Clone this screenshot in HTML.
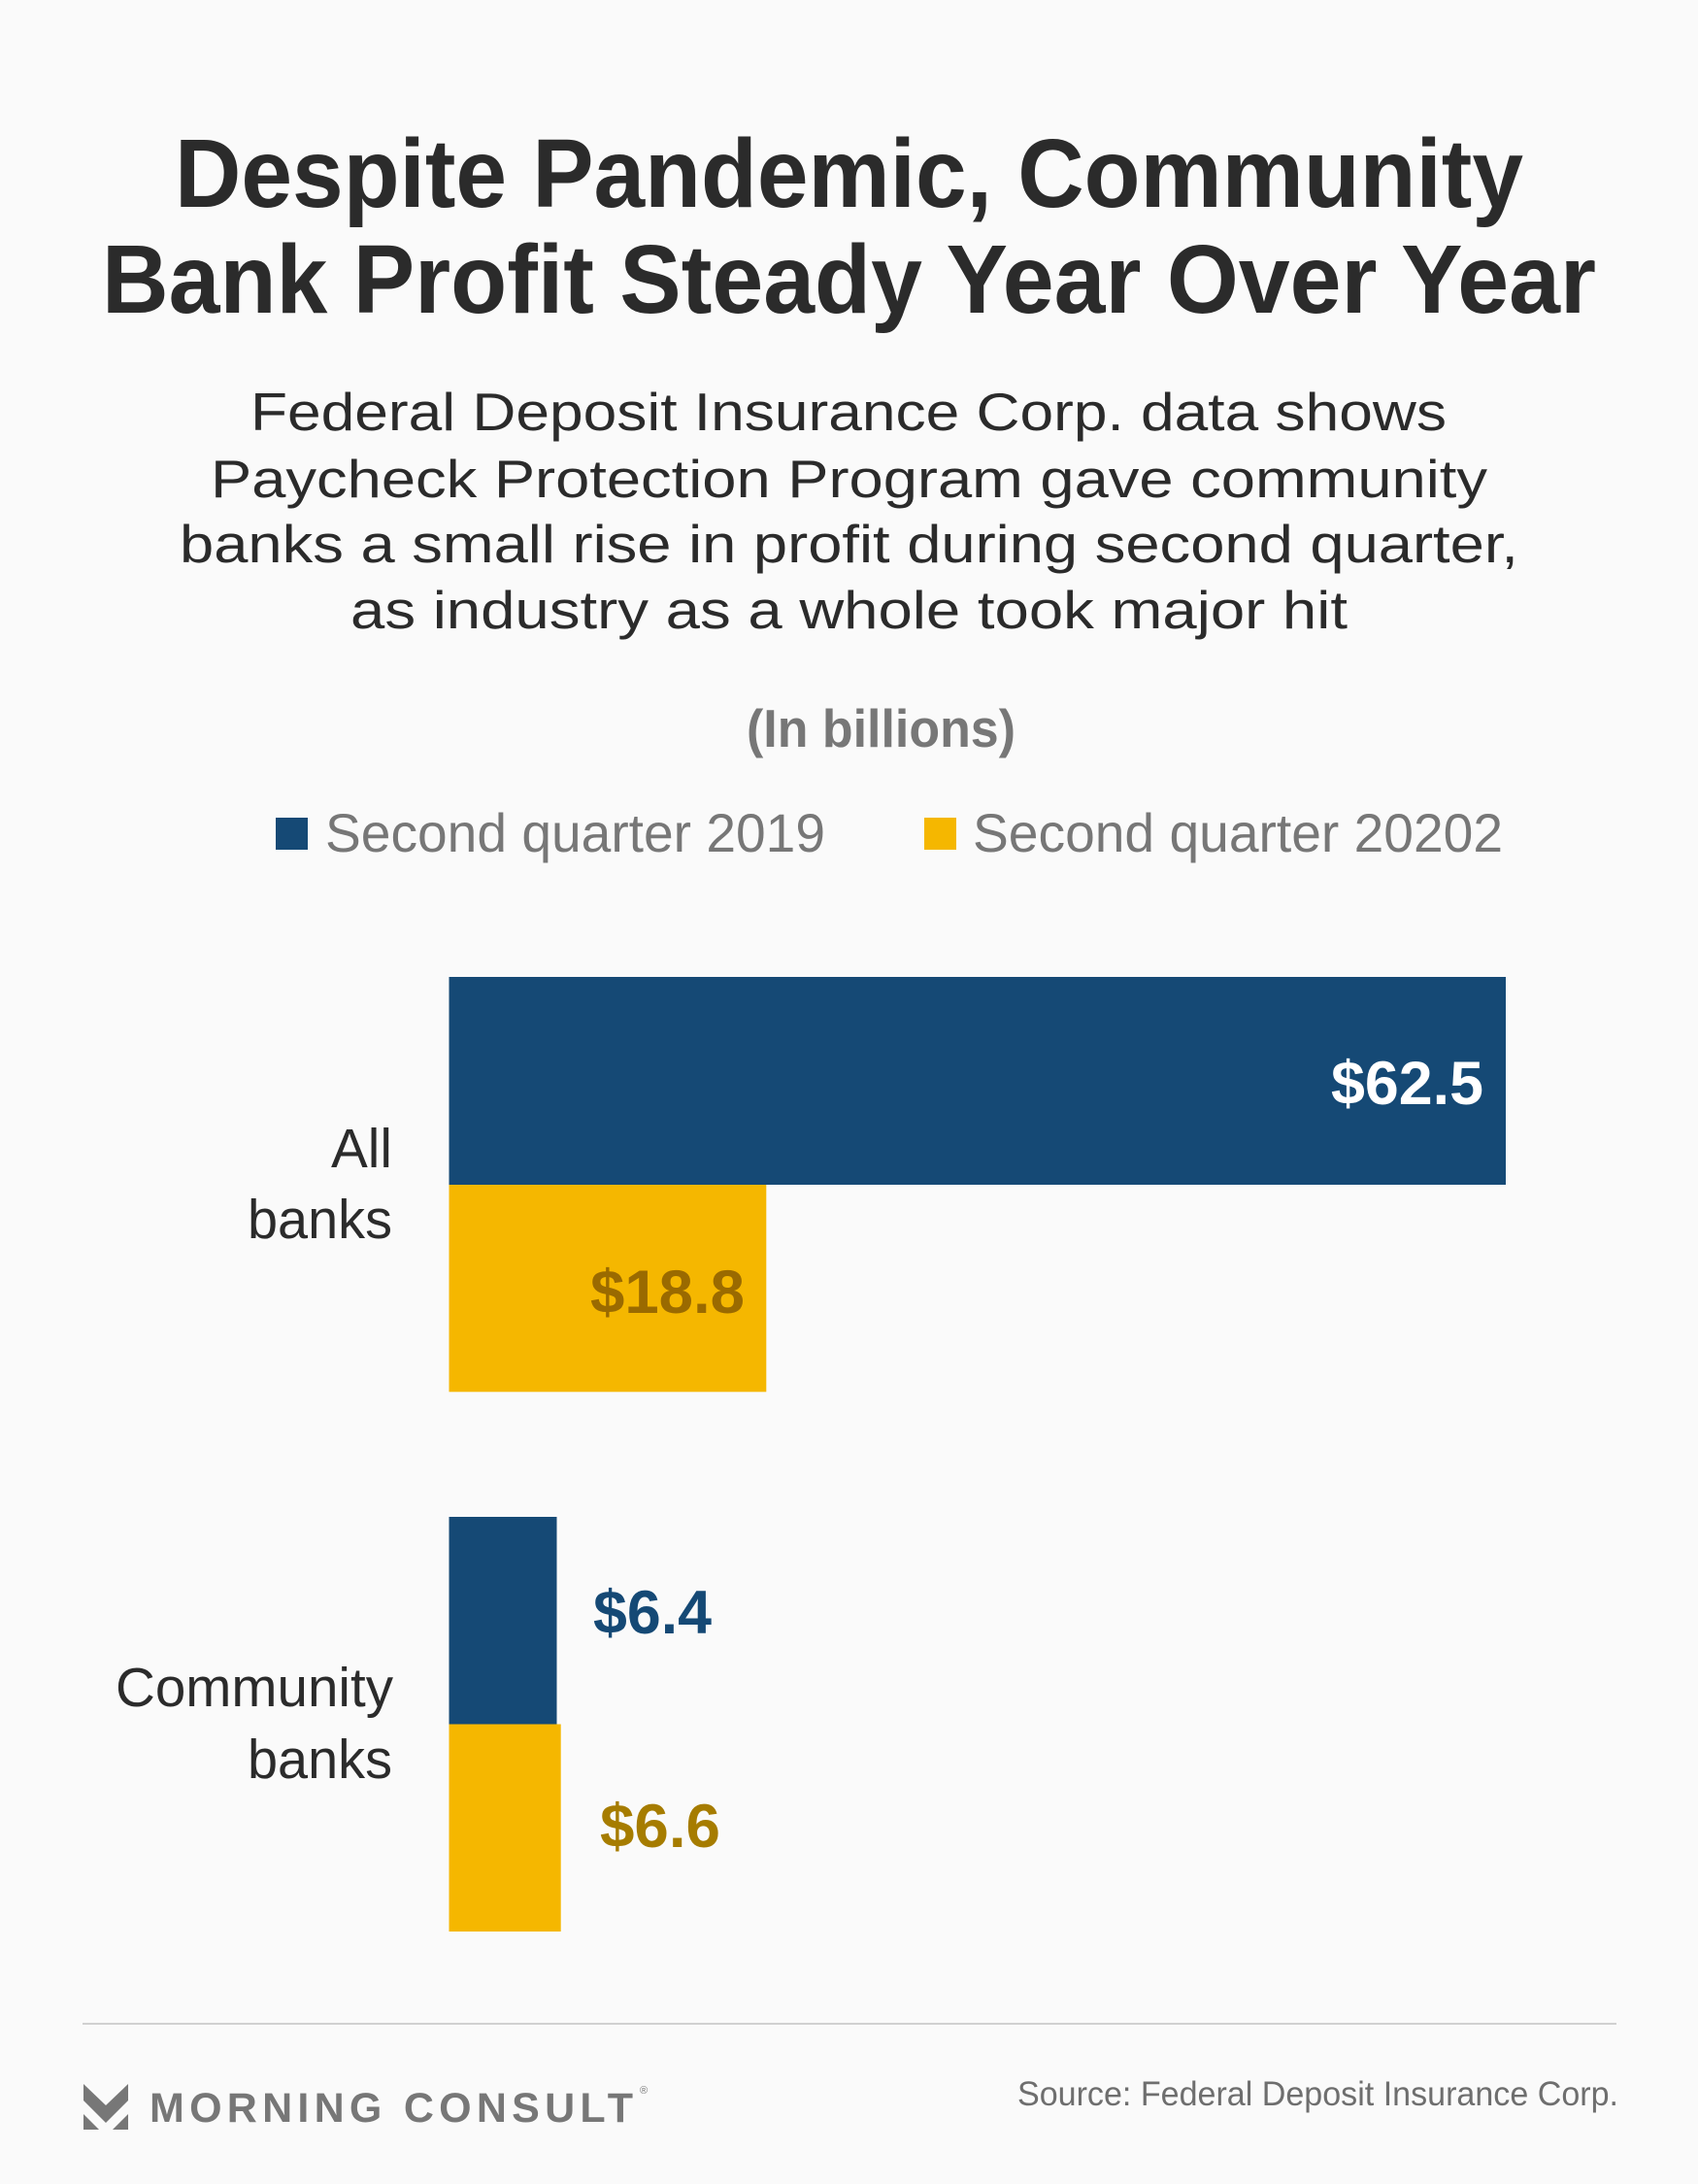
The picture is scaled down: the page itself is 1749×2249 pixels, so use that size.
<!DOCTYPE html>
<html>
<head>
<meta charset="utf-8">
<style>
  html,body{margin:0;padding:0;background:#fafafa;}
  svg{display:block;}
  text{font-family:"Liberation Sans", Arial, sans-serif;}
</style>
</head>
<body>
<svg width="1749" height="2249" viewBox="0 0 1749 2249" xmlns="http://www.w3.org/2000/svg">
  <rect x="0" y="0" width="1749" height="2249" fill="#fafafa"/>

  <!-- Title -->
  <g fill="#2b2b2b" font-weight="bold" font-size="100">
    <text x="180" y="213" textLength="1389" lengthAdjust="spacingAndGlyphs">Despite Pandemic, Community</text>
    <text x="105" y="322" textLength="1539" lengthAdjust="spacingAndGlyphs">Bank Profit Steady Year Over Year</text>
  </g>

  <!-- Subtitle -->
  <g fill="#2b2b2b" font-size="55">
    <text x="258" y="443" textLength="1232" lengthAdjust="spacingAndGlyphs">Federal Deposit Insurance Corp. data shows</text>
    <text x="217" y="512" textLength="1315" lengthAdjust="spacingAndGlyphs">Paycheck Protection Program gave community</text>
    <text x="185" y="579" textLength="1379" lengthAdjust="spacingAndGlyphs">banks a small rise in profit during second quarter,</text>
    <text x="361" y="647" textLength="1027" lengthAdjust="spacingAndGlyphs">as industry as a whole took major hit</text>
  </g>

  <!-- In billions -->
  <text x="769" y="769" font-size="55" font-weight="bold" fill="#777777" textLength="277" lengthAdjust="spacingAndGlyphs">(In billions)</text>

  <!-- Legend -->
  <rect x="284" y="842" width="33" height="33" fill="#154975"/>
  <text x="335" y="877" font-size="56" fill="#777777" textLength="515" lengthAdjust="spacingAndGlyphs">Second quarter 2019</text>
  <rect x="952" y="842" width="33" height="33" fill="#f5b700"/>
  <text x="1002" y="877" font-size="56" fill="#777777" textLength="546" lengthAdjust="spacingAndGlyphs">Second quarter 20202</text>

  <!-- Bars: All banks -->
  <rect x="462.5" y="1006" width="1088.5" height="214" fill="#154975"/>
  <rect x="462.5" y="1220" width="326.8" height="213.3" fill="#f5b700"/>
  <!-- Bars: Community banks -->
  <rect x="462.5" y="1562" width="111" height="213.5" fill="#154975"/>
  <rect x="462.5" y="1775.5" width="115.2" height="213.5" fill="#f5b700"/>

  <!-- Value labels -->
  <g font-weight="bold" font-size="63">
    <text x="1371" y="1137" fill="#ffffff" textLength="157" lengthAdjust="spacingAndGlyphs">$62.5</text>
    <text x="608" y="1352" fill="#9a6a00" textLength="159" lengthAdjust="spacingAndGlyphs">$18.8</text>
    <text x="611" y="1682" fill="#154975" textLength="122" lengthAdjust="spacingAndGlyphs">$6.4</text>
    <text x="618" y="1902" fill="#a67c00" textLength="124" lengthAdjust="spacingAndGlyphs">$6.6</text>
  </g>

  <!-- Category labels -->
  <g fill="#2b2b2b" font-size="57">
    <text x="341" y="1202" textLength="63" lengthAdjust="spacingAndGlyphs">All</text>
    <text x="255" y="1275" textLength="149" lengthAdjust="spacingAndGlyphs">banks</text>
    <text x="119" y="1757" textLength="286" lengthAdjust="spacingAndGlyphs">Community</text>
    <text x="255" y="1831" textLength="149" lengthAdjust="spacingAndGlyphs">banks</text>
  </g>

  <!-- Footer rule -->
  <rect x="85" y="2083" width="1580" height="2" fill="#d0d0d0"/>

  <!-- Logo icon -->
  <g fill="#777777" transform="translate(86,2146)">
    <polygon points="0,0 23,22 46,0 46,17 23,40 0,17"/>
    <polygon points="0,31 0,47 16,47"/>
    <polygon points="46,31 46,47 30,47"/>
  </g>
  <text x="154" y="2185" font-size="43" font-weight="bold" fill="#777777" textLength="498" lengthAdjust="spacing">MORNING CONSULT</text>
  <text x="659" y="2156" font-size="11" fill="#777777">®</text>

  <!-- Source -->
  <text x="1048" y="2168" font-size="35" fill="#6e6e6e" textLength="619" lengthAdjust="spacingAndGlyphs">Source: Federal Deposit Insurance Corp.</text>
</svg>
</body>
</html>
